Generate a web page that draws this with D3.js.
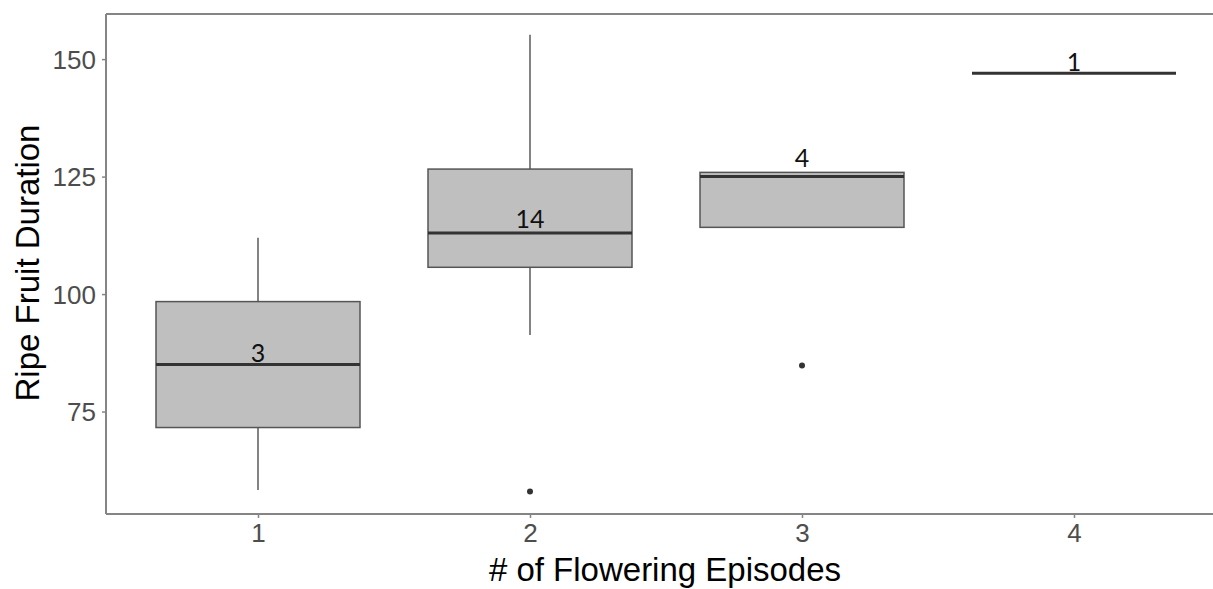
<!DOCTYPE html>
<html>
<head>
<meta charset="utf-8">
<script src="https://cdn.jsdelivr.net/npm/d3@7"></script>
<style>
  html, body { margin: 0; padding: 0; background: #ffffff; }
  svg { display: block; }
</style>
</head>
<body>
<svg id="chart" width="1213" height="589"></svg>
<script>
// ---- data ----
const categories = ["1", "2", "3", "4"];
const q1 = [71.6, 105.7, 114.2, 147.0];
const medians = [85.0, 113.0, 125.0, 147.0];
const q3 = [98.4, 126.6, 125.9, 147.0];
const whiskerLow = [58.3, 91.3, 114.2, 147.0];
const whiskerHigh = [112.0, 155.2, 125.9, 147.0];
const outliers = [[], [58.0], [84.8], []];
const counts = [3, 14, 4, 1];
const countLabelAt = [85.6, 114.0, 127.0, 147.5];
const yTicks = [75, 100, 125, 150];

// ---- layout ----
const W = 1213, H = 589;
const panel = { left: 106, top: 14, right: 1224, bottom: 514 };
const svg = d3.select("#chart");
svg.append("rect").attr("width", W).attr("height", H).attr("fill", "#ffffff");

const x = d3.scaleLinear().domain([1, 4]).range([258, 1074]);
const unit = x(2) - x(1);
const y = d3.scaleLinear().domain([53.2, 159.6]).range([panel.bottom, panel.top]);
const boxHalf = unit * 0.375;

const g = svg.append("g");

// boxes
categories.forEach((c, i) => {
  const cx = x(+c);
  // whiskers
  g.append("line").attr("x1", cx).attr("x2", cx)
    .attr("y1", y(q3[i])).attr("y2", y(whiskerHigh[i]))
    .attr("stroke", "#5a5a5a").attr("stroke-width", 1.5);
  g.append("line").attr("x1", cx).attr("x2", cx)
    .attr("y1", y(q1[i])).attr("y2", y(whiskerLow[i]))
    .attr("stroke", "#5a5a5a").attr("stroke-width", 1.5);
  // box
  g.append("rect")
    .attr("x", cx - boxHalf).attr("width", boxHalf * 2)
    .attr("y", y(q3[i])).attr("height", Math.max(0, y(q1[i]) - y(q3[i])))
    .attr("fill", "#bfbfbf").attr("stroke", "#555555").attr("stroke-width", 1.5);
  // median
  g.append("line").attr("x1", cx - boxHalf).attr("x2", cx + boxHalf)
    .attr("y1", y(medians[i])).attr("y2", y(medians[i]))
    .attr("stroke", "#333333").attr("stroke-width", 3);
  // outliers
  outliers[i].forEach(v => {
    g.append("circle").attr("cx", cx).attr("cy", y(v)).attr("r", 3)
      .attr("fill", "#333333");
  });
  // count labels
  g.append("text").attr("x", cx).attr("y", y(countLabelAt[i]))
    .attr("text-anchor", "middle")
    .attr("font-family", "Lato, 'Open Sans', sans-serif")
    .attr("font-size", 25).attr("fill", "#111111")
    .text(counts[i]);
});

// panel border (left, top, bottom)
const axisColor = "#858585";
svg.append("line").attr("x1", panel.left).attr("x2", panel.right)
  .attr("y1", panel.top).attr("y2", panel.top)
  .attr("stroke", axisColor).attr("stroke-width", 2);

// y axis
const yAxis = svg.append("g").attr("transform", `translate(${panel.left},0)`)
  .call(d3.axisLeft(y).tickValues(yTicks).tickSize(4).tickPadding(6));
yAxis.select(".domain").remove();
yAxis.selectAll(".tick line").attr("stroke", axisColor).attr("stroke-width", 1.5);
yAxis.selectAll(".tick text")
  .attr("font-family", "Arial, 'Liberation Sans', sans-serif")
  .attr("font-size", 26).attr("fill", "#4d4d4d").attr("dy", "0.35em");
svg.append("line").attr("x1", panel.left).attr("x2", panel.left)
  .attr("y1", panel.top).attr("y2", panel.bottom)
  .attr("stroke", axisColor).attr("stroke-width", 2);

// x axis
const xAxis = svg.append("g").attr("transform", `translate(0,${panel.bottom})`)
  .call(d3.axisBottom(x).tickValues(categories.map(Number)).tickFormat(d3.format("d"))
    .tickSize(4).tickPadding(6));
xAxis.select(".domain").remove();
xAxis.selectAll(".tick line").attr("stroke", axisColor).attr("stroke-width", 1.5);
xAxis.selectAll(".tick text")
  .attr("font-family", "Arial, 'Liberation Sans', sans-serif")
  .attr("font-size", 26).attr("fill", "#4d4d4d").attr("dy", "0.71em");
svg.append("line").attr("x1", panel.left).attr("x2", panel.right)
  .attr("y1", panel.bottom).attr("y2", panel.bottom)
  .attr("stroke", axisColor).attr("stroke-width", 2);

// axis titles
svg.append("text").attr("x", (panel.left + panel.right) / 2).attr("y", 581)
  .attr("text-anchor", "middle")
  .attr("font-family", "Arial, 'Liberation Sans', sans-serif")
  .attr("font-size", 33).attr("fill", "#000000")
  .text("# of Flowering Episodes");
svg.append("text")
  .attr("transform", `translate(39,263) rotate(-90)`)
  .attr("text-anchor", "middle")
  .attr("font-family", "Arial, 'Liberation Sans', sans-serif")
  .attr("font-size", 33).attr("fill", "#000000")
  .text("Ripe Fruit Duration");
</script>
</body>
</html>
